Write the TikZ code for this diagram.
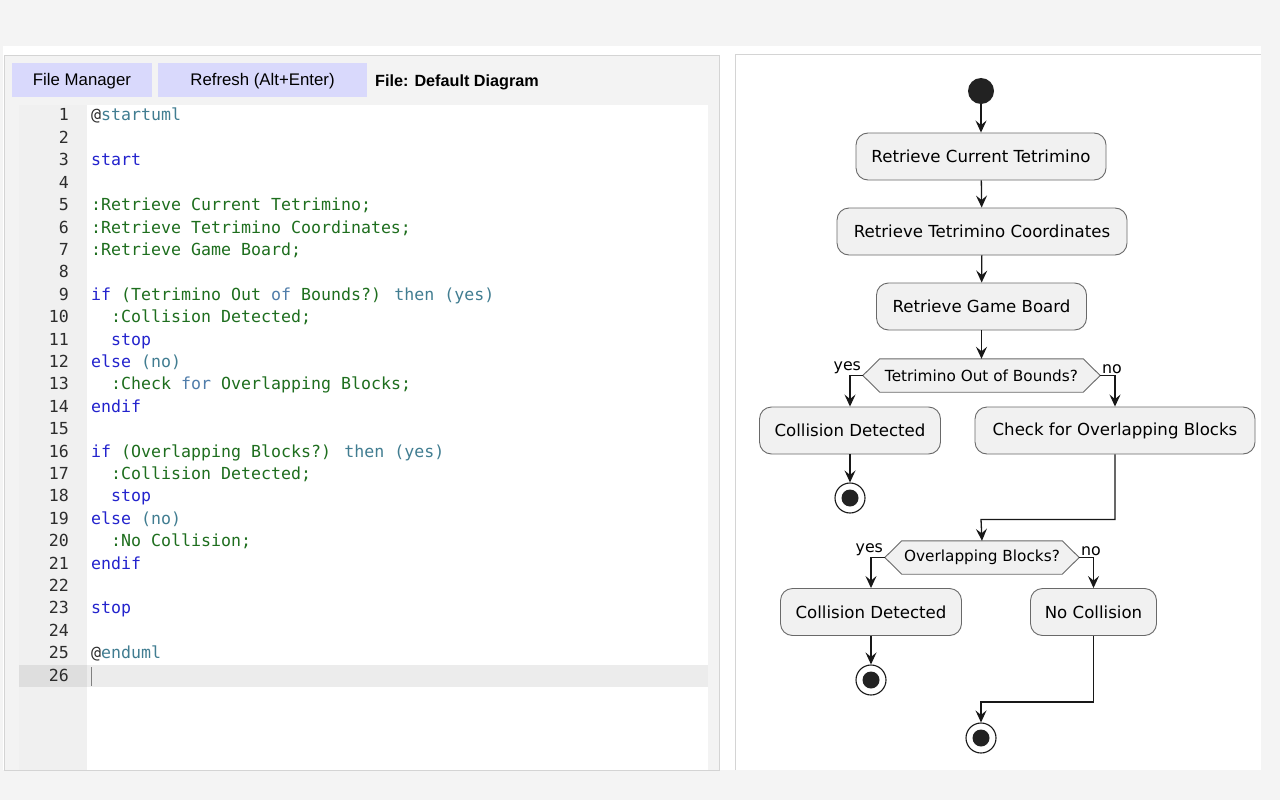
\documentclass[tikz,border=0pt]{standalone}
\usepackage{fontspec}
\setmainfont{DejaVu Sans}
\newfontfamily\codefam{DejaVu Sans Mono}
\newfontfamily\uifam{Liberation Sans}
\usetikzlibrary{arrows.meta,calc,backgrounds}
\definecolor{bgc}{RGB}{244,244,244}
\definecolor{panelborder}{RGB}{212,212,212}
\definecolor{panelgray}{RGB}{243,243,243}
\definecolor{guttergray}{RGB}{240,240,240}
\definecolor{hlgutter}{RGB}{222,222,222}
\definecolor{hlcode}{RGB}{236,236,236}
\definecolor{btnfill}{RGB}{217,217,252}
\definecolor{boxfill}{RGB}{241,241,241}
\definecolor{boxborder}{RGB}{105,105,105}
\definecolor{linec}{RGB}{24,24,24}
\definecolor{startc}{RGB}{34,34,34}
\definecolor{grn}{RGB}{30,110,30}
\definecolor{kwb}{RGB}{35,35,205}
\definecolor{tl}{RGB}{65,125,145}
\definecolor{stl}{RGB}{80,125,170}
\definecolor{lnc}{RGB}{45,45,45}
\newcommand\codesz{\codefam\fontsize{16.6pt}{20pt}\selectfont}
\newcommand\actsz{\fontsize{16.6pt}{20pt}\selectfont}
\newcommand\hexsz{\fontsize{15.3pt}{18pt}\selectfont}
\newcommand\uisz{\uifam\fontsize{16.8pt}{20pt}\selectfont}
\tikzset{
  codeline/.style={anchor=west, inner sep=0pt, text height=12pt, text depth=4pt, font=\codesz},
  lnum/.style={anchor=east, inner sep=0pt, text height=12pt, text depth=4pt, font=\codesz, text=lnc},
  btn/.style={fill=btnfill, minimum height=34pt, inner sep=0pt, text height=12pt, text depth=2pt, font=\uisz},
  act/.style={draw=boxborder, fill=boxfill, rounded corners=12pt, minimum height=47pt, line width=0.9pt, font=\actsz, inner sep=0pt},
  hexnode/.style={minimum height=33pt, inner sep=0pt, font=\hexsz},
  hexline/.style={draw=boxborder, fill=boxfill, line width=0.9pt},
  conn/.style={draw=linec, line width=1.3pt, -{Stealth[length=12pt, width=11pt, inset=4.5pt]}},
  lbl/.style={font=\fontsize{15.8pt}{18pt}\selectfont, inner sep=1.2pt},
  startnode/.style={circle, fill=startc, minimum size=26pt, inner sep=0pt},
  stopnode/.style={circle, draw=linec, fill=white, line width=1.1pt, minimum size=30pt, inner sep=0pt,
    path picture={\fill[startc] (path picture bounding box.center) circle (8.5pt);}}
}
\begin{document}
\begin{tikzpicture}[x=1pt,y=-1pt]
\useasboundingbox (0,0) rectangle (1280,800);
\begin{scope}[on background layer]
\fill[bgc] (0,0) rectangle (1280,800);
\fill[white] (3,46) rectangle (1261,770);
\draw[panelborder, fill=panelgray, line width=1pt] (4.5,55.5) rectangle (719.5,770);
\fill[guttergray] (19,105) rectangle (87,770);
\fill[white] (87,105) rectangle (708,770);
\fill[hlgutter] (19,665) rectangle (87,687);
\fill[hlcode] (87,665) rectangle (708,687);
\draw[gray, line width=1pt] (91.5,667) -- (91.5,686);
\draw[panelborder, line width=1.2pt] (735.5,770) -- (735.5,54.5) -- (1261,54.5);
\end{scope}

% toolbar
\node[btn, minimum width=140pt] (fm) at (82,80) {File Manager};
\node[btn, minimum width=209pt] (rf) at (262.5,80) {Refresh (Alt+Enter)};
\node[anchor=west, inner sep=0pt, font=\uifam\fontsize{16.2pt}{20pt}\selectfont\bfseries] (fl) at (375,82) {File: Default Diagram};

% line numbers
\foreach \i in {1,...,26} {
  \node[lnum] (n\i) at (69,{117+(\i-1)*22.4}) {\i};
}
% code
\node[codeline] (c01) at (91,117.0) {\textcolor{lnc}{@}\textcolor{tl}{startuml}};
\node[codeline] (c03) at (91,161.8) {\textcolor{kwb}{start}};
\node[codeline] (c05) at (91,206.6) {\textcolor{grn}{:Retrieve Current Tetrimino;}};
\node[codeline] (c06) at (91,229.0) {\textcolor{grn}{:Retrieve Tetrimino Coordinates;}};
\node[codeline] (c07) at (91,251.4) {\textcolor{grn}{:Retrieve Game Board;}};
\node[codeline] (c09) at (91,296.2) {\textcolor{kwb}{if} \textcolor{grn}{(Tetrimino Out} \textcolor{stl}{of} \textcolor{grn}{Bounds?)} \textcolor{tl}{then} \textcolor{tl}{(yes)}};
\node[codeline] (c10) at (111,318.6) {\textcolor{grn}{:Collision Detected;}};
\node[codeline] (c11) at (111,341.0) {\textcolor{kwb}{stop}};
\node[codeline] (c12) at (91,363.4) {\textcolor{kwb}{else} \textcolor{tl}{(no)}};
\node[codeline] (c13) at (111,385.8) {\textcolor{grn}{:Check} \textcolor{stl}{for} \textcolor{grn}{Overlapping Blocks;}};
\node[codeline] (c14) at (91,408.2) {\textcolor{kwb}{endif}};
\node[codeline] (c16) at (91,453.0) {\textcolor{kwb}{if} \textcolor{grn}{(Overlapping Blocks?)} \textcolor{tl}{then} \textcolor{tl}{(yes)}};
\node[codeline] (c17) at (111,475.4) {\textcolor{grn}{:Collision Detected;}};
\node[codeline] (c18) at (111,497.8) {\textcolor{kwb}{stop}};
\node[codeline] (c19) at (91,520.2) {\textcolor{kwb}{else} \textcolor{tl}{(no)}};
\node[codeline] (c20) at (111,542.6) {\textcolor{grn}{:No Collision;}};
\node[codeline] (c21) at (91,565.0) {\textcolor{kwb}{endif}};
\node[codeline] (c23) at (91,609.8) {\textcolor{kwb}{stop}};
\node[codeline] (c25) at (91,654.6) {\textcolor{lnc}{@}\textcolor{tl}{enduml}};

% diagram nodes
\node[startnode] (st) at (981,91) {};
\node[act, minimum width=250pt] (a1) at (981,156.5) {Retrieve Current Tetrimino};
\node[act, minimum width=290pt] (a2) at (982,231.5) {Retrieve Tetrimino Coordinates};
\node[act, minimum width=210pt] (a3) at (981.5,306.5) {Retrieve Game Board};
\node[hexnode, minimum width=237pt] (d1) at (981.5,375.5) {Tetrimino Out of Bounds?};
\node[act, minimum width=181pt] (c1) at (850,430.5) {Collision Detected};
\node[act, minimum width=280pt] (ck) at (1115,430.5) {Check for Overlapping Blocks};
\node[stopnode] (s1) at (850,498) {};
\node[hexnode, minimum width=194pt] (d2) at (982,557.5) {Overlapping Blocks?};
\node[act, minimum width=181pt] (c2) at (871,612) {Collision Detected};
\node[act, minimum width=126pt] (nc) at (1093.5,612) {No Collision};
\node[stopnode] (s2) at (871,680) {};
\node[stopnode] (s3) at (981,738) {};
\coordinate (m1) at (981,519.5);
\coordinate (m2) at (981,702);

% hexagon outlines (behind text)
\begin{scope}[on background layer]
\foreach \h in {d1,d2} {
  \draw[hexline] (\h.west) -- ($(\h.north west)+(17,0)$) -- ($(\h.north east)+(-17,0)$) -- (\h.east)
     -- ($(\h.south east)+(-17,0)$) -- ($(\h.south west)+(17,0)$) -- cycle;
}
\end{scope}

% connectors
\draw[conn] (st) -- (a1);
\draw[conn] (a1) -- (a2);
\draw[conn] (a2) -- (a3);
\draw[conn] (a3) -- (d1);
\draw[conn] (d1.west) -| node[lbl, pos=0, anchor=south east] {yes} (c1.north);
\draw[conn] (d1.east) -| node[lbl, pos=0, anchor=south west] {no} (ck.north);
\draw[conn] (c1) -- (s1);
\draw[conn] (ck.south) |- (m1) -- (d2.north);
\draw[conn] (d2.west) -| node[lbl, pos=0, anchor=south east] {yes} (c2.north);
\draw[conn] (d2.east) -| node[lbl, pos=0, anchor=south west] {no} (nc.north);
\draw[conn] (c2) -- (s2);
\draw[conn] (nc.south) |- (m2) -- (s3);
\end{tikzpicture}
\end{document}
